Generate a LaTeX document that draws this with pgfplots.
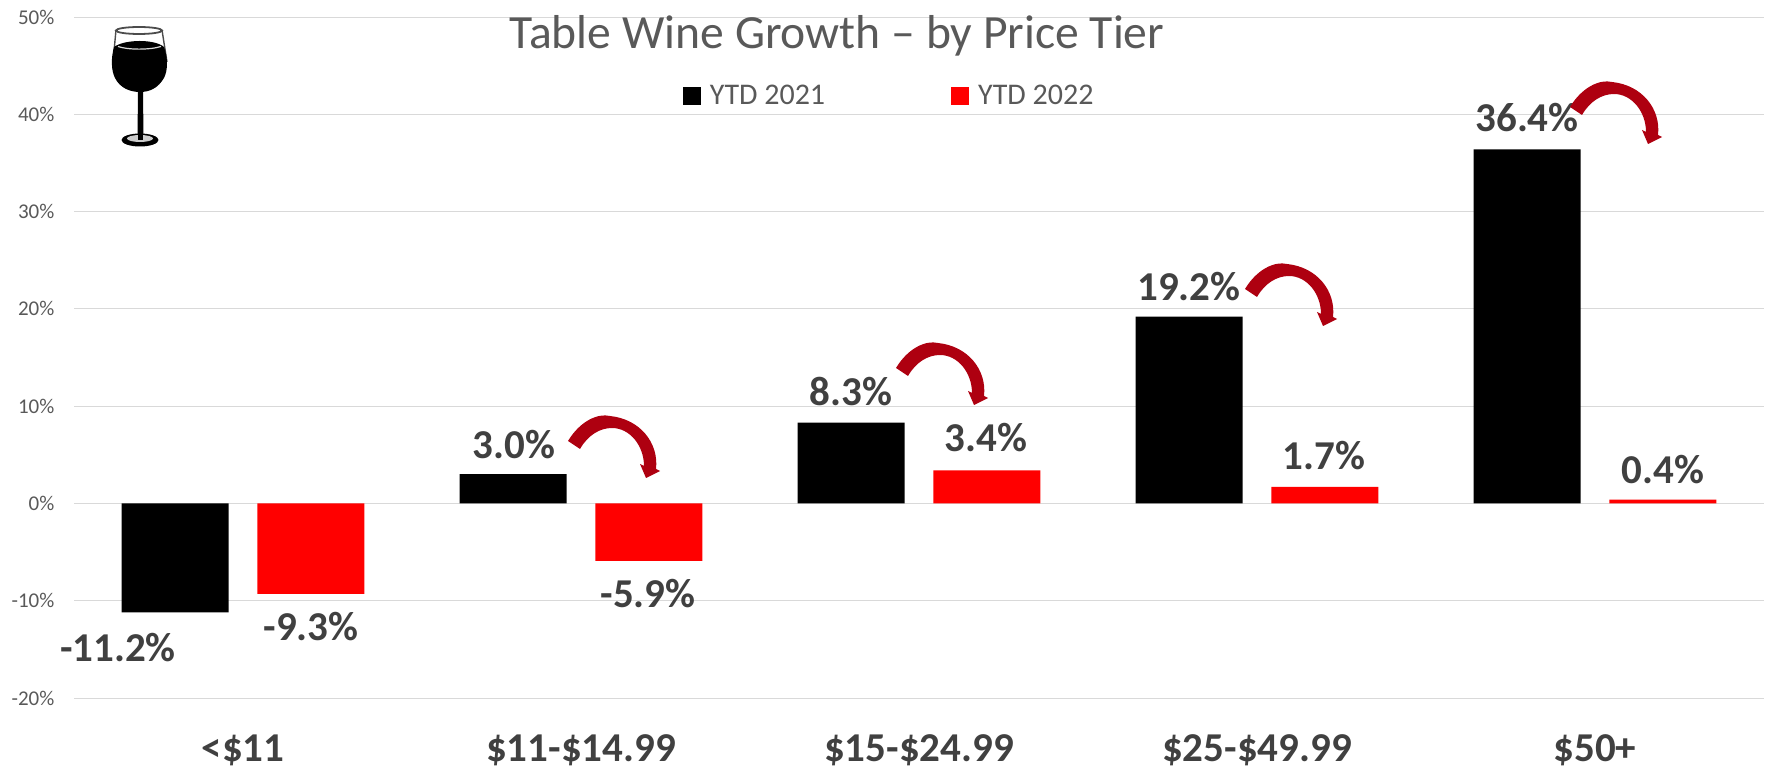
\documentclass[border=0pt]{standalone}
\usepackage{pgfplots}
\pgfplotsset{compat=1.18}
\usepackage{fontspec}
\setmainfont{Carlito}
\definecolor{titlegray}{HTML}{595959}
\definecolor{labelgray}{HTML}{404040}
\definecolor{gridgray}{HTML}{D9D9D9}
\definecolor{arrowred}{HTML}{AE0010}
\newcommand{\curvearrow}[3]{%
  \begin{scope}[shift={(#1,#2)},yscale=#3]
    \fill[arrowred] (0,0) .. controls (12,-20) and (30,-28) .. (42,-25)
      .. controls (72,-22) and (91,2) .. (88,28)
      -- (92,30) -- (78,37) -- (72,23) -- (76,25)
      .. controls (76,5) and (62,-13) .. (44,-13)
      .. controls (32,-13) and (20,-6) .. (12,8) -- cycle;
  \end{scope}}
\newcommand{\vallabel}[3]{\node[font=\bfseries\fontsize{20.5}{23}\selectfont,text=labelgray,inner sep=0pt] at (#1,#2) {#3};}
\begin{document}
\begin{tikzpicture}
\useasboundingbox (0pt,-384.5pt) rectangle (883.5pt,0pt);
\begin{axis}[
  at={(37pt,-349pt)},anchor=south west,
  scale only axis,width=845pt,height=340.5pt,
  xmin=-0.5,xmax=4.5,ymin=-20,ymax=50,
  ybar,
  bar width=53.5pt,
  axis line style={draw=none},
  tick style={draw=none},
  ymajorgrids,
  grid style={gridgray,line width=0.5pt},
  ytick={-20,-10,0,10,20,30,40,50},
  yticklabels={-20\%,-10\%,0\%,10\%,20\%,30\%,40\%,50\%},
  yticklabel style={font=\fontsize{10.5}{12}\selectfont,text=titlegray,inner sep=0pt,xshift=-9.6pt},
  xtick={0,1,2,3,4},
  xticklabels={<\$11,\$11-\$14.99,\$15-\$24.99,\$25-\$49.99,\$50+},
  xticklabel style={font=\bfseries\fontsize{20.5}{23}\selectfont,text=labelgray,inner sep=0pt,yshift=-13.9pt},
  legend style={draw=none,fill=none,at={(0.3565,0.884)},anchor=west,legend columns=2,
    font=\fontsize{15}{18}\selectfont,text=titlegray,
    /tikz/every even column/.append style={column sep=61pt}},
  legend image code/.code={\fill[#1] (0pt,-4.5pt) rectangle (9pt,4.5pt);\path (11.5pt,0pt);},
]
\addplot[fill=black,draw=none,bar shift=-33.9pt] coordinates {(0,-11.2) (1,3.0) (2,8.3) (3,19.2) (4,36.4)};
\addlegendentry{YTD 2021}
\addplot[fill=red,draw=none,bar shift=33.9pt] coordinates {(0,-9.3) (1,-5.9) (2,3.4) (3,1.7) (4,0.4)};
\addlegendentry{YTD 2022}
\end{axis}
\begin{scope}[x=0.5pt,y=-0.5pt]
\node[font=\fontsize{23.8}{27}\selectfont,text=titlegray,inner sep=0pt] at (837,36) {Table Wine Growth -- by Price Tier};
\vallabel{118}{648}{-11.2\%}
\vallabel{311}{627}{-9.3\%}
\vallabel{514}{445}{3.0\%}
\vallabel{648}{594}{-5.9\%}
\vallabel{851}{392}{8.3\%}
\vallabel{986}{438}{3.4\%}
\vallabel{1189}{287}{19.2\%}
\vallabel{1324}{456}{1.7\%}
\vallabel{1527}{118}{36.4\%}
\vallabel{1663}{470}{0.4\%}
\curvearrow{568}{441}{1.0}
\curvearrow{896}{368}{1.0}
\curvearrow{1245}{289}{1.0}
\curvearrow{1570}{107}{1.0}
% wine glass
\draw[black!70,line width=0.7pt] (116,30) -- (113,62) (162,30) -- (167,62);
\draw[black!70,line width=0.9pt] (139,30.5) ellipse (23 and 3.5);
\fill[black] (114,47) .. controls (125,39) and (155,39) .. (164,47)
  .. controls (168,58) and (168,70) .. (164,78)
  .. controls (158,88) and (150,92) .. (140,92)
  .. controls (130,92) and (120,88) .. (115,78)
  .. controls (111,70) and (111,58) .. (114,47) -- cycle;
\draw[white!85!black,line width=0.6pt] (118,46.5) .. controls (128,50) and (150,50) .. (161,46.5);
\fill[black] (138,92) -- (143,92) -- (143.5,136) -- (137.5,136) -- cycle;
\fill[black] (140,140) ellipse (18.5 and 6.5);
\fill[white!80!black] (140,138.5) ellipse (13 and 3.5);
\fill[black] (138,134) rectangle (143,140);
\end{scope}
\end{tikzpicture}
\end{document}
